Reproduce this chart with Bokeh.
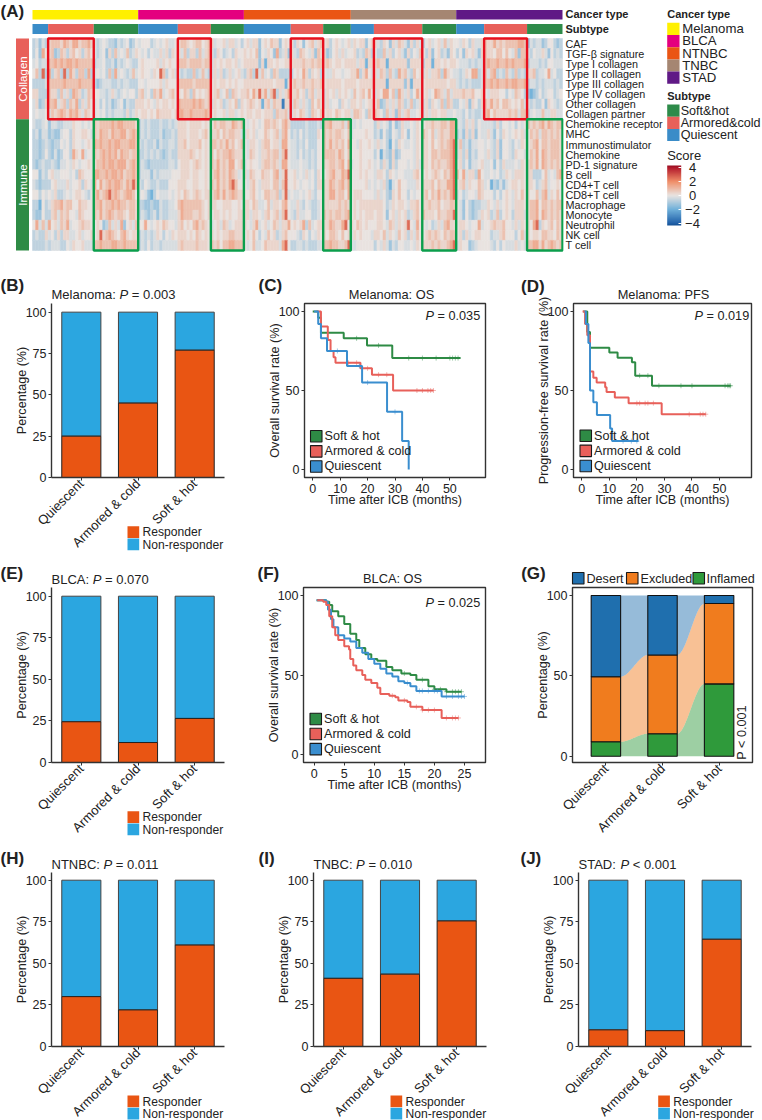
from math import pi
import numpy as np
from bokeh.embed import file_html
from bokeh.layouts import column, row
from bokeh.models import (ColorBar, ColumnDataSource, FixedTicker, Label,
                          LinearAxis, LinearColorMapper, Range1d)
from bokeh.plotting import figure
from bokeh.resources import INLINE
from bokeh.transform import transform

FONT = "Liberation Sans"
INK = "#222222"

# ---------------- panel A data ----------------
row_names = ["CAF", "TGF-β signature", "Type I collagen", "Type II collagen", "Type III collagen",
             "Type IV collagen", "Other collagen", "Collagen partner", "Chemokine receptor", "MHC",
             "Immunostimulator", "Chemokine", "PD-1 signature", "B cell", "CD4+T cell", "CD8+T cell",
             "Macrophage", "Monocyte", "Neutrophil", "NK cell", "T cell"]
cancer_names = ["Melanoma", "BLCA", "NTNBC", "TNBC", "STAD"]
cancer_colors = ["#FFF000", "#E4007F", "#EA5514", "#A58672", "#601986"]
subtype_names = ["Soft&hot", "Armored&cold", "Quiescent"]
subtype_colors = {"Q": "#3A8CC8", "A": "#E8605A", "S": "#2E8B4A"}
segment_types = ["Q", "A", "S"] * 5
segment_samples = [5.2, 15.2, 14.8, 13.2, 11, 11, 15.6, 10.8, 9.2, 7.7, 16.1, 11.3, 9.3, 14.3, 11.8]
group_names = ["Collagen", "Immune"]
group_rows = [8, 13]
score_levels = [-3.2, -1.9, -1.2, -0.7, -0.3, 0, 0.35, 0.8, 1.3, 2.6]

h_caf = "34243 677768768867786 434543324345235 4555345456445 67765677567 64556466453 5646625657662565 63652567467 563565456 46566256 6436526476426364 35645647465 546536446 76686767777887 243442355323"
h_tgf = "35285 672376367563675 434526374547346 5453544646365 64736637467 43653453655 6565725465283462 64376546276 623564645 56343763 5337463564263547 53625634265 352656426 76657757547277 435446425343"
h_col1 = "45344 778787887877777 344533424345433 5655556465655 77767777677 46565665645 6666626166565566 66667667677 676566566 66466166 6766166666626666 36616656566 544434344 78778778787778 344434355444"
h_col2 = "57393 836739386377383 454537384543474 5655465973564 43433734743 46463464564 3673947453763333 35658636563 544655455 66836854 6476374386743756 46466738654 434658834 74783437437343 667344584533"
h_col3 = "33334 777778777787777 323444334344333 5545555646555 77777677777 56566565655 6666666666566616 67667667667 566666566 66566666 6666166666261666 56666666566 434343334 77878778788778 344343444343"
h_col4 = "66333 766374638763476 554434643454553 6745376845675 65763756567 56745737656 6758696847936468 66756367466 465646565 47567585 4658857386463586 56458764746 667667556 54666553547653 212353455345"
h_other = "46236 778467376836475 453534234524336 6656546566565 87777878767 46563465736 5676561674766066 47646437576 464553654 66564566 5723646476347346 46365473763 354626536 76867577656574 434335265434"
h_partner = "45445 476787687864765 454534344436346 5665657666656 88778777787 56556466456 5665665666376674 46576437657 566576566 47765376 7653746274674456 46466566445 443534334 78576666767477 345447446644"
h_ckr = "43345 244334446554545 767777878877776 3434333433434 66656666565 57677668767 5456545776765786 33333433343 778666748 44545555 3645425236445465 56676677688 443646354 44436355453545 767678687677"
h_mhc = "34244 232245536556654 768776877886787 3434333423343 66656665675 66757677664 4656455765674785 34353433365 767677657 45555655 3425325436525465 76574676688 342636254 46425365456564 576747767676"
h_immuno = "33234 323354536554565 878778788777887 4343342433443 66756667565 77676867567 5466546775664885 44343533355 768676758 55465565 4645315365445465 66575676789 473424455 45436255435465 567857767776"
h_ck = "33235 324235538658455 767878786877677 3343434323433 66667656565 75767787666 5476546676774795 44353434355 777768757 55565555 3514326235555465 66577677789 463624355 46436255436554 576858767776"
h_pd1 = "32343 343244546545565 677878878886787 3432333333443 56665676565 76867688567 4565546776764885 44454434355 667767858 45565565 4536426355545464 66576766789 563524456 44525364445465 676858767676"
h_bcell = "55243 564455545376555 887787887867787 3444243444455 56665665565 67867687645 6476557665784695 56454645365 567866879 55565655 4665365455444675 56567657689 758466385 44545346546665 663335745478"
h_cd4 = "43233 356444645563654 858678788768797 4354334333555 66655665565 76867689755 5467546665774795 56545545366 668767868 55555645 4546314575544465 66675766889 567465576 45132424566565 665346745565"
h_cd8 = "55354 546334545665435 786789787678875 4542135444545 65765676566 67868678766 5567545776673694 54454564355 668867758 56665555 4645326575535455 67576867689 453455476 55535356546575 655747846575"
h_macro = "33153 467786775576655 778677878776776 3322322433445 78777777656 66556665565 6657644574665785 44643543345 666667676 56566666 6665346566546675 66766756677 542532334 46546456546665 677857767677"
h_mono = "32253 367476755476555 768678767765776 3432342433444 68777667656 56656565566 6646654675674795 43644553345 767677678 56565666 5665256465634675 76665766779 542532346 56347356536664 677858767676"
h_neut = "58474 856476845567665 565237464825647 5585456576554 67565786765 45647645666 6546845645764668 56568374566 668766895 65765655 5665476465695485 54534647866 566545584 55676675546465 658936567576"
h_nk = "34336 453636644564556 569678765786566 3434346535465 66656576565 65656677666 5657535475634675 55436535465 657765756 46565554 6657465475636475 56767657677 563645665 55344675553574 656657766576"
h_tcell = "33334 344433546556444 778777887787777 3435344344444 67666676665 76757788777 5457445766664895 33443433344 778776679 44555555 3546424355445465 66676766789 465523455 55435354446454 778868678767"
heat_rows = [h_caf, h_tgf, h_col1, h_col2, h_col3, h_col4, h_other, h_partner, h_ckr, h_mhc, h_immuno,
             h_ck, h_pd1, h_bcell, h_cd4, h_cd8, h_macro, h_mono, h_neut, h_nk, h_tcell]

# ---------------- response bars ----------------
bar_cats = ["Quiescent", "Armored & cold", "Soft & hot"]
resp_melanoma = [25, 45, 77]
resp_blca = [24.5, 12, 26.5]
resp_ntnbc = [30, 22, 61]
resp_tnbc = [41, 43.5, 75.5]
resp_stad = [10, 9.5, 64.5]
RESP = "#E95513"
NONRESP = "#2BA6E0"

# ---------------- Kaplan-Meier curves ----------------
GREEN, RED, BLUE = "#2E8B45", "#E8605A", "#3A8ECF"
km_names = ["Soft & hot", "Armored & cold", "Quiescent"]
c_soft_t = [0, 2, 3, 11.3, 19.8, 29, 53.9]
c_soft_s = [100, 96, 86.5, 83, 78.5, 70.5, 70.5]
c_soft_cens = [16, 24, 35, 40, 45, 50, 51, 52, 53]
c_arm_t = [1.5, 3, 5.5, 6.5, 7.6, 8.3, 17.4, 21.6, 29.3, 44]
c_arm_s = [100, 90.5, 82, 75, 71, 67.5, 64, 60, 50, 50]
c_arm_cens = [13, 16, 20, 24, 27, 38, 40, 42, 43, 44]
c_qui_t = [0.5, 2, 3, 5.2, 12.5, 18, 27.1, 32.6, 35, 35]
c_qui_s = [100, 92, 83, 75, 65.5, 55, 36.5, 18, 0, 0]
c_qui_cens = [9, 17, 20, 30]

d_soft_t = [0.5, 2, 3, 10, 13, 18.2, 19.4, 25.5, 54]
d_soft_s = [100, 87, 77, 74, 70.7, 67.8, 59.4, 53, 53]
d_soft_cens = [21, 24, 28, 36, 40, 52, 53, 53.5, 54]
d_arm_t = [0.3, 1.2, 2, 3, 4.2, 5.4, 8.5, 9, 12, 17, 29, 45]
d_arm_s = [100, 92, 85, 62, 58, 55, 52, 49, 45.5, 42, 35, 35]
d_arm_cens = [20, 21, 23, 24, 26, 39, 43, 44, 45]
d_qui_t = [1, 1.5, 2.4, 3, 4.2, 5.5, 10.3, 11, 20.6]
d_qui_s = [100, 92, 80, 50, 42.5, 34.5, 26, 18, 18]
d_qui_cens = [15, 18, 20]

f_soft_t = [0.4, 1.5, 2, 2.5, 3, 4, 5, 6, 7, 7.5, 8.5, 9.5, 10.5, 12, 13, 14.5, 16, 17, 19, 20, 22, 24.5]
f_soft_s = [97, 97, 96, 94, 90, 87, 82, 76, 72, 67, 63, 60, 59, 55, 53, 51, 50, 47, 43, 41, 39.5, 39.5]
f_soft_cens = [15, 18, 20, 21, 22, 23, 23.5, 24, 24.5]
f_arm_t = [0.5, 1.5, 2, 2.5, 3, 3.5, 4, 5, 5.8, 6, 6.5, 7, 8, 8.5, 9.5, 10.5, 11, 12.5, 13.5, 14, 15.5, 16, 18, 21, 21.2, 24]
f_arm_s = [97, 96, 94, 87, 80, 75, 72, 68, 66, 60, 56, 53, 50, 47, 45, 42, 38, 37, 36, 34, 33, 30, 28, 28, 23, 23]
f_arm_cens = [13, 15, 17, 18, 19, 20, 22, 23, 23.5, 24]
f_qui_t = [0.4, 2, 2.3, 2.8, 3.2, 4, 5, 6, 7, 8, 9, 10, 11, 12, 13, 14, 15, 16, 17, 21, 21.2, 25]
f_qui_s = [97, 96, 91, 85, 80, 75, 73, 71, 67, 64, 60, 57, 54, 51, 49, 46, 45, 43, 40, 40, 36.5, 36.5]
f_qui_cens = [15.5, 17.5, 18, 19, 20, 20.5, 22, 23, 24, 24.5, 25]

# ---------------- panel G ----------------
g_classes = ["Inflamed", "Excluded", "Desert"]
g_colors = {"Inflamed": "#2F9A3B", "Excluded": "#F07C1E", "Desert": "#1F6FAE"}
g_inflamed = [9, 14, 45]
g_excluded = [40.5, 49, 50]
g_desert = [50.5, 37, 5]

# ---------------- overlay: page-sized figure for texts and legends ----------------
ARIAL = {"M": .833, "e": .556, "l": .222, "a": .556, "n": .556, "o": .556, "m": .833, ":": .278, " ": .278,
         "B": .667, "L": .556, "C": .722, "A": .667, "N": .722, "T": .611, "S": .667, "D": .722}
ov = figure(width=762, height=1120, output_backend="svg", toolbar_location=None, x_range=Range1d(0, 762),
            y_range=Range1d(1120, 0), x_axis_location=None, y_axis_location=None, min_border=0,
            background_fill_color=None, border_fill_color=None, outline_line_color=None)
ov.xgrid.visible = False
ov.ygrid.visible = False


def note(x, y, text, size=12.6, bold=False, italic=False, align="left", angle=0, color=INK):
    style = "bold" if bold else ("italic" if italic else "normal")
    ov.add_layout(Label(x=x, y=y, text=text, text_font=FONT, text_font_size=f"{size}px", text_font_style=style,
                        text_align=align, text_baseline="middle", angle=angle, text_color=color))


def ptext(x, y, pre, post, size=13):
    """Text with an italic P inside: pre + P + post."""
    w = sum(ARIAL[c] for c in pre) * size
    if pre:
        note(x, y, pre, size)
    note(x + w, y, "P", size, italic=True)
    note(x + w + (.667 + .278) * size, y, post, size)


def key(x, y, w, h, color, outline=None, text=None, tx=None, ty=None, size=12.6):
    ov.quad(left=[x], right=[x + w], top=[y], bottom=[y + h], fill_color=color, line_color=outline, line_width=1.1)
    if text:
        note(tx, ty, text, size)


def slanted(centers, bottom):
    """Category labels at 45 degrees, ending under their ticks."""
    for cx, name in zip(centers, bar_cats):
        note(cx, bottom + 4, name, 13, align="right", angle=pi / 4)


def canvas(x0, y0, x1, y1, left, top, right, bottom, **kw):
    p = figure(width=x1 - x0, height=y1 - y0, output_backend="svg", toolbar_location=None,
               min_border_left=left - x0, min_border_right=x1 - right,
               min_border_top=top - y0, min_border_bottom=y1 - bottom,
               background_fill_color="white", border_fill_color="white", **kw)
    p.xgrid.visible = False
    p.ygrid.visible = False
    return p


def style_axes(p, boxed):
    for ax in (p.xaxis[0], p.yaxis[0]):
        ax.axis_line_color = None if boxed else "#333333"
        ax.axis_line_width = 1.4
        ax.major_tick_line_color = "#333333"
        ax.major_tick_line_width = 1
        ax.major_tick_out = 3
        ax.major_tick_in = 0
        ax.minor_tick_line_color = None
        ax.major_label_text_font = FONT
        ax.major_label_text_font_size = "12.5px"
        ax.major_label_text_color = INK
        ax.major_label_standoff = 2
        ax.axis_label_text_font = FONT
        ax.axis_label_text_font_size = "12.6px"
        ax.axis_label_text_font_style = "normal"
        ax.axis_label_text_color = INK
        ax.axis_label_standoff = 0
    p.yaxis.axis_label_standoff = -6
    if boxed:
        p.outline_line_color = "#333333"
        p.outline_line_width = 1.4
    else:
        p.outline_line_color = None


def bar_panel(box, frame, resp, letter, letter_x, letter_y, name, p_post, title_y, leg_x, leg_y):
    left, top, right, bottom = frame
    p = canvas(*box, left, top, right, bottom,
               x_range=Range1d(-0.52625, 2.52625), y_range=Range1d(0, (bottom - top) / 1.663))
    pos = list(range(len(bar_cats)))
    p.vbar(x=pos, bottom=resp, top=[100] * 3, width=0.69, fill_color=NONRESP, line_color="#444444", line_width=1)
    p.vbar(x=pos, bottom=0, top=resp, width=0.69, fill_color=RESP, line_color="#222222", line_width=1)
    style_axes(p, False)
    p.yaxis.ticker = FixedTicker(ticks=[0, 25, 50, 75, 100])
    p.yaxis.axis_label = "Percentage (%)"
    p.xaxis.ticker = FixedTicker(ticks=pos)
    p.xaxis.major_label_overrides = {k: "" for k in pos}
    step = (right - left) / 3.0525
    slanted([left + (0.52625 + k) * step for k in pos], bottom)
    key(leg_x, leg_y, 11.7, 11.7, RESP, None, "Responder", leg_x + 15, leg_y + 6, 12.1)
    key(leg_x, leg_y + 12.3, 11.7, 11.7, NONRESP, None, "Non-responder", leg_x + 15, leg_y + 18.5, 12.1)
    note(letter_x, letter_y, letter, 17, bold=True)
    ptext(left, title_y, name, p_post)
    return p


def km_panel(box, frame, xr, xticks, yl, curves, letter, letter_x, letter_y, title, title_x, title_y, p_post, p_x, p_y, leg_x, leg_y):
    left, top, right, bottom = frame
    p = canvas(*box, left, top, right, bottom, x_range=Range1d(*xr), y_range=Range1d(-5, 105))
    for t, s, cens, col in curves:
        p.step(t, s, mode="after", line_color=col, line_width=2)
        idx = np.searchsorted(t, cens, side="right") - 1
        p.scatter(cens, np.array(s)[idx], marker="cross", size=5, line_color=col, line_alpha=0.6, line_width=0.8)
    style_axes(p, True)
    p.xaxis.ticker = FixedTicker(ticks=xticks)
    p.xaxis.major_label_standoff = 3
    p.xaxis.axis_label_standoff = -3
    p.yaxis.ticker = FixedTicker(ticks=[0, 50, 100])
    p.xaxis.axis_label = "Time after ICB (months)"
    p.yaxis.axis_label = yl
    for k, (n, col) in enumerate(zip(km_names, (GREEN, RED, BLUE))):
        key(leg_x, leg_y + 15.1 * k, 11.5, 11.5, col, "#1a1a1a", n, leg_x + 14, leg_y + 5.5 + 15.1 * k)
    note(letter_x, letter_y, letter, 17, bold=True)
    note(title_x, title_y, title, 12.8, align="center")
    ptext(p_x, p_y, "", p_post, 12.7)
    return p


# ---------------- panel A ----------------
COLW = 530 / sum(segment_samples)
ROWH = 212 / 21
y_top = -29 / ROWH
y_bot = 21 + 2 / ROWH
x_lo = -17 / COLW
x_hi = sum(segment_samples) + 1 / COLW
a = canvas(0, 0, 762, 262, 15, 9, 563, 252, x_range=Range1d(x_lo, x_hi), y_range=Range1d(y_bot, y_top),
           x_axis_location=None, y_axis_location=None)
a.outline_line_color = None
palette_pts = [(-4.3, "#14508f"), (-4, "#1f5fa8"), (-2, "#6FB0DA"), (0, "#E9E4E1"), (2, "#F08E68"), (4, "#B2182B"), (4.3, "#8f0d20")]
xs = np.linspace(-4.28, 4.28, 256)
rgb = np.array([[int(c[i:i + 2], 16) for i in (1, 3, 5)] for _, c in palette_pts], float)
palette = ["#%02x%02x%02x" % tuple(int(round(np.interp(v, [q for q, _ in palette_pts], rgb[:, k]))) for k in range(3)) for v in xs]
mapper = LinearColorMapper(palette=palette, low=-4.28, high=4.28)

edges = np.concatenate([[0], np.cumsum(segment_samples)])
L, R, T, B, V = [], [], [], [], []
for r, text in enumerate(heat_rows):
    for s, seg in enumerate(text.split()):
        w = segment_samples[s] / len(seg)
        for i, ch in enumerate(seg):
            L.append(edges[s] + i * w)
            R.append(edges[s] + (i + 1) * w)
            T.append(r)
            B.append(r + 1)
            V.append(score_levels[int(ch)])
cells = ColumnDataSource(dict(left=L, right=R, top=T, bottom=B, score=V))
a.quad(left="left", right="right", top="top", bottom="bottom", source=cells, fill_color=transform("score", mapper),
       line_color=transform("score", mapper), line_width=0.5)

ca_left = edges[:-1][::3]
ca_right = edges[1:][2::3]
a.quad(left=ca_left, right=ca_right, top=(9.5 - 38) / ROWH, bottom=(19 - 38) / ROWH, fill_color=cancer_colors, line_color=None)
a.quad(left=edges[:-1], right=edges[1:], top=(23.5 - 38) / ROWH, bottom=(33.5 - 38) / ROWH,
       fill_color=[subtype_colors[s] for s in segment_types], line_color=None)
grp_edges = np.concatenate([[0], np.cumsum(group_rows)])
a.quad(left=-16.5 / COLW, right=-3.5 / COLW, top=grp_edges[:-1], bottom=grp_edges[1:], fill_color=["#E8605A", "#2E8B45"], line_color=None)
a_idx = [i for i, s in enumerate(segment_types) if s == "A"]
s_idx = [i for i, s in enumerate(segment_types) if s == "S"]
a.quad(left=edges[a_idx], right=edges[[i + 1 for i in a_idx]], top=0, bottom=8, fill_color=None, line_color="#E8101E", line_width=2.4)
a.quad(left=edges[s_idx], right=edges[[i + 1 for i in s_idx]], top=8, bottom=21, fill_color=None, line_color="#0B9E4C", line_width=2.4)

rax = LinearAxis(ticker=FixedTicker(ticks=[i + .5 for i in range(21)]),
                 major_label_overrides={i + .5: n for i, n in enumerate(row_names)},
                 axis_line_color=None, major_tick_line_color=None, minor_tick_line_color=None,
                 major_tick_out=0, major_tick_in=0,
                 major_label_standoff=2, major_label_text_font=FONT, major_label_text_font_size="10.8px", major_label_text_color=INK)
a.add_layout(rax, "right")

note(0, 11, "(A)", 17, bold=True)
note(565, 13, "Cancer type", 11, bold=True)
note(565, 28.7, "Subtype", 11, bold=True)
note(666.7, 13, "Cancer type", 11, bold=True)
note(666.7, 95, "Subtype", 11, bold=True)
note(666.7, 154.5, "Score", 13)
note(22, 78.5, "Collagen", 11.5, align="center", angle=pi / 2, color="white")
note(22, 184.5, "Immune", 11.5, align="center", angle=pi / 2, color="white")
for k, (n, col) in enumerate(zip(cancer_names, cancer_colors)):
    key(666.7, 22.3 + 12.2 * k, 12.3, 12.2, col, None, n, 681.7, 28.2 + 12.2 * k, 13.2)
for k, (n, col) in enumerate(zip(subtype_names, [subtype_colors[q] for q in "SAQ"])):
    key(666.7, 104 + 12.2 * k, 12.3, 12.2, col, None, n, 680.2, 110 + 12.2 * k, 12.6)
cb = ColorBar(color_mapper=mapper, location=(666.7, 1120 - 225), width=14, height=60, padding=0, margin=0,
              ticker=FixedTicker(ticks=[4, 2, 0, -2, -4]), major_label_text_color=None,
              major_label_text_font_size="1px", major_tick_line_color="white", major_tick_in=3,
              bar_line_color=None, background_fill_color=None, minor_tick_line_color=None)
ov.add_layout(cb, "center")
for v, t in zip([4, 2, 0, -2, -4], ["4", "2", "0", "−2", "−4"]):
    note(692, 195 - 7 * v, t, 13, align="center")

# ---------------- row 2 ----------------
b = bar_panel((0, 262, 250, 552), (51, 302, 224, 477), resp_melanoma, "(B)", 0, 285, "Melanoma: ", "= 0.003", 294, 127, 525.7)
c = km_panel((250, 262, 510, 552), (304, 303, 485, 477), (-3, 63), [0, 10, 20, 30, 40, 50], "Overall survival rate (%)",
             [(c_soft_t, c_soft_s, c_soft_cens, GREEN), (c_arm_t, c_arm_s, c_arm_cens, RED), (c_qui_t, c_qui_s, c_qui_cens, BLUE)],
             "(C)", 258, 285, "Melanoma: OS", 391, 294, "= 0.035", 425, 315.5, 310, 430)
d = km_panel((510, 262, 762, 552), (573, 303, 751, 477), (-3, 61.6), [0, 10, 20, 30, 40, 50], "Progression-free survival rate (%)",
             [(d_soft_t, d_soft_s, d_soft_cens, GREEN), (d_arm_t, d_arm_s, d_arm_cens, RED), (d_qui_t, d_qui_s, d_qui_cens, BLUE)],
             "(D)", 520.5, 286, "Melanoma: PFS", 663, 294, "= 0.019", 694, 315.5, 579.5, 429.5)

# ---------------- row 3 ----------------
e = bar_panel((0, 552, 250, 840), (51, 587, 224, 762), resp_blca, "(E)", 0, 573, "BLCA: ", "= 0.070", 579, 127, 810.7)
f = km_panel((250, 552, 510, 840), (303, 587, 485, 762), (-1.78, 28.5), [0, 5, 10, 15, 20, 25], "Overall survival rate (%)",
             [(f_soft_t, f_soft_s, f_soft_cens, GREEN), (f_qui_t, f_qui_s, f_qui_cens, BLUE), (f_arm_t, f_arm_s, f_arm_cens, RED)],
             "(F)", 257, 573, "BLCA: OS", 392, 578, "= 0.025", 425, 602, 309.5, 712.7)

g = canvas(510, 552, 762, 840, 572, 587, 752, 762, x_range=Range1d(-0.59, 2.59), y_range=Range1d(-3.9, 105))
g_low = np.zeros(3)
HALF = 0.26
for name, vals in zip(g_classes, [g_inflamed, g_excluded, g_desert]):
    vals = np.array(vals, float)
    hi = g_low + vals
    for i in range(2):
        x = np.linspace(i + HALF, i + 1 - HALF, 41)
        u = (x - x[0]) / (x[-1] - x[0])
        ease = u * u * (3 - 2 * u)
        g.varea(x=x, y1=g_low[i] + (g_low[i + 1] - g_low[i]) * ease, y2=hi[i] + (hi[i + 1] - hi[i]) * ease,
                fill_color=g_colors[name], fill_alpha=0.47)
    g.vbar(x=[0, 1, 2], bottom=g_low, top=hi, width=2 * HALF, fill_color=g_colors[name], line_color="#111111", line_width=1.1)
    g_low = hi
style_axes(g, True)
g.xaxis.ticker = FixedTicker(ticks=[0, 1, 2])
g.xaxis.major_label_overrides = {k: "" for k in range(3)}
slanted([605.7 + 56.6 * k for k in range(3)], 762)
g.yaxis.ticker = FixedTicker(ticks=[0, 50, 100])
g.yaxis.axis_label = "Percentage (%)"
for n, kx, tx in (("Desert", 572, 586), ("Excluded", 626, 640), ("Inflamed", 692.5, 706)):
    key(kx, 572, 11.5, 11.5, g_colors[n], "#1a1a1a", n, tx, 578)
note(520.7, 573, "(G)", 17, bold=True)
note(741.5, 732, "P < 0.001", 12.6, align="center", angle=pi / 2)

# ---------------- row 4 ----------------
h = bar_panel((0, 840, 250, 1120), (51, 872, 224, 1046), resp_ntnbc, "(H)", 0, 858, "NTNBC: ", "= 0.011", 864, 127, 1095)
i_ = bar_panel((250, 840, 510, 1120), (313, 872, 486, 1046), resp_tnbc, "(I)", 258, 858, "TNBC: ", "= 0.010", 864, 390, 1095)
j = bar_panel((510, 840, 762, 1120), (578, 872, 751, 1046), resp_stad, "(J)", 520, 858, "STAD: ", "< 0.001", 864, 657.7, 1095)

page = column(a, row(b, c, d, spacing=0), row(e, f, g, spacing=0), row(h, i_, j, spacing=0),
              row(ov, margin=(-1120, 0, 0, 0)), spacing=0, margin=0)
open("out.html", "w").write(file_html(page, INLINE))
